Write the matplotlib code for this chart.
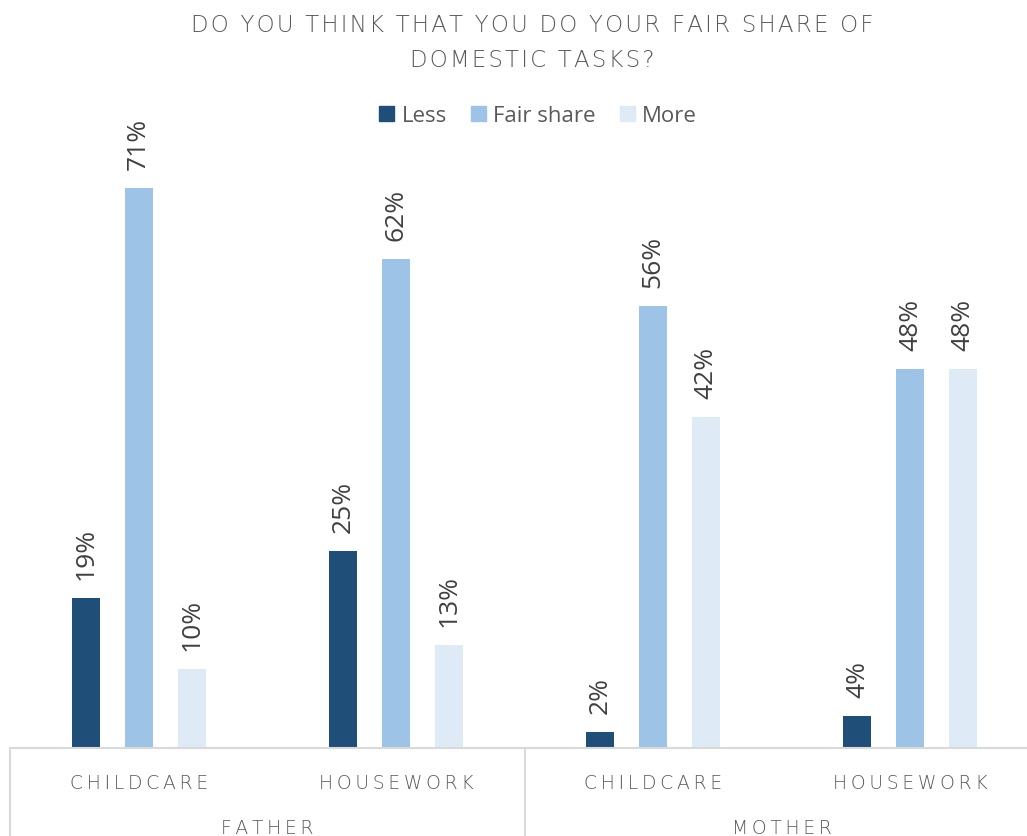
import matplotlib.pyplot as plt
from matplotlib.patches import Patch

plt.rcParams["font.family"] = ["Open Sans", "DejaVu Sans"]

title = "DO YOU THINK THAT YOU DO YOUR FAIR SHARE OF\nDOMESTIC TASKS?"
tasks = ["CHILDCARE", "HOUSEWORK", "CHILDCARE", "HOUSEWORK"]
parents = ["FATHER", "MOTHER"]
series = ["Less", "Fair share", "More"]
less = [19, 25, 2, 4]
fair_share = [71, 62, 56, 48]
more = [10, 13, 42, 48]

colors = ["#1f4e79", "#9dc3e6", "#deebf7"]
text_grey = "#595959"
line_grey = "#d9d9d9"
spaced_font = dict(family=["DejaVu Sans"], fontweight="light", color=text_grey)


def tracked(s, gap="\u2009"):
    # widen letter spacing the way the caps headings are set
    return "\n".join(gap.join(line) for line in s.split("\n"))


px = 1 / 100
fig = plt.figure(figsize=(1027 * px, 836 * px), dpi=100)
ax = fig.add_axes([10 / 1027, 88 / 836, 1029 / 1027, 631 / 836])

width = 0.109
offsets = [-0.206, 0.0, 0.206]
for vals, off, col in zip([less, fair_share, more], offsets, colors):
    xs = [i + off for i in range(len(vals))]
    ax.bar(xs, vals, width=width, color=col, zorder=2)
    for x, v in zip(xs, vals):
        ax.annotate(f"{v}%", (x, v), xytext=(0, 13), textcoords="offset points",
                    rotation=90, ha="center", va="bottom", fontsize=19,
                    color="#404040")

ax.set_xlim(-0.5, len(tasks) - 0.5)
ax.set_ylim(0, 80)
ax.axis("off")

# category box beneath the plot area
trans = ax.get_xaxis_transform()
ax.plot([-0.5, len(tasks) - 0.5], [0, 0], color=line_grey, lw=1.5, transform=trans, clip_on=False)
for x in [-0.5, 1.5, 3.5]:
    ax.plot([x, x], [0, -0.2], color=line_grey, lw=1.5, transform=trans, clip_on=False)

for i, t in enumerate(tasks):
    ax.text(i, -0.057, tracked(t), transform=trans, ha="center", va="center",
            fontsize=13.5, **spaced_font)
for j, p in enumerate(parents):
    ax.text(2 * j + 0.5, -0.127, tracked(p), transform=trans, ha="center", va="center",
            fontsize=13.5, **spaced_font)

fig.text(532 / 1027, 1 - 43 / 836, tracked(title, "\u200a"), ha="center", va="center",
         fontsize=16.5, linespacing=1.65, **spaced_font)

handles = [Patch(color=c, label=s) for c, s in zip(colors, series)]
fig.legend(handles=handles, loc="center", bbox_to_anchor=(538 / 1027, 1 - 116 / 836),
           ncol=3, frameon=False, fontsize=16, handlelength=0.68, handleheight=0.68,
           handletextpad=0.32, columnspacing=1.08, labelcolor=text_grey,
           borderaxespad=0)

fig.savefig("out.png", dpi=100)
